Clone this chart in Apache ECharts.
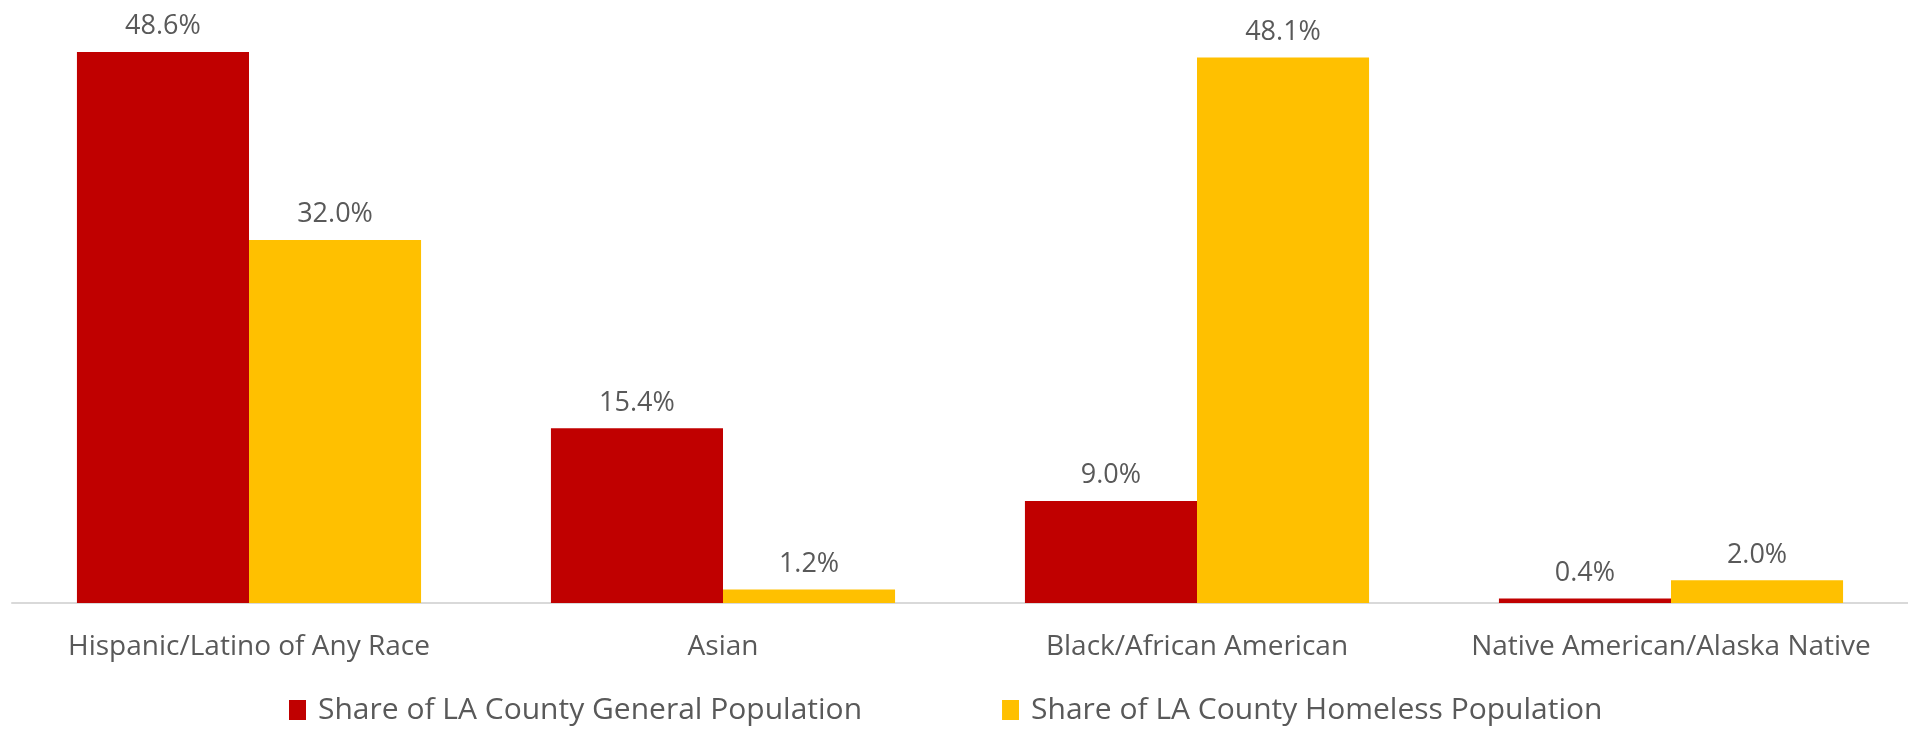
<!DOCTYPE html>
<html>
<head>
<meta charset="utf-8">
<script src="https://cdn.jsdelivr.net/npm/echarts@6/dist/echarts.min.js"></script>
<style>
html,body{margin:0;padding:0;background:#fff;}
#c{width:1908px;height:729px;}
</style>
</head>
<body>
<div id="c"></div>
<script>
const categories = ["Hispanic/Latino of Any Race", "Asian", "Black/African American", "Native American/Alaska Native"];
const seriesNames = ["Share of LA County General Population", "Share of LA County Homeless Population"];
const generalPop = [48.6, 15.4, 9.0, 0.4];
const homelessPop = [32.0, 1.2, 48.1, 2.0];

const FONT = "'Open Sans', 'Noto Sans', sans-serif";
const chart = echarts.init(document.getElementById('c'), null, {renderer: 'canvas'});
const label = {
  show: true, position: 'top', distance: 12,
  color: '#595959', fontFamily: FONT, fontSize: 27,
  formatter: p => p.value.toFixed(1) + '%'
};
chart.setOption({
  animation: false,
  backgroundColor: '#ffffff',
  grid: {left: 12, right: 0, top: 36, bottom: 126, containLabel: false},
  legend: {
    left: 284, top: 690,
    itemWidth: 17, itemHeight: 20, itemGap: 140,
    icon: 'rect',
    textStyle: {color: '#595959', fontFamily: FONT, fontSize: 30, padding: [0, 0, 0, 7]},
    data: seriesNames
  },
  xAxis: {
    type: 'category', data: categories,
    axisLine: {show: true, lineStyle: {color: '#D9D9D9', width: 2}},
    axisTick: {show: false},
    axisLabel: {color: '#595959', fontFamily: FONT, fontSize: 28, margin: 30, interval: 0}
  },
  yAxis: {
    type: 'value', min: 0, max: 50, show: false,
    splitLine: {show: false}
  },
  series: [
    {name: seriesNames[0], type: 'bar', data: generalPop, barGap: '0%', barCategoryGap: '27.4%',
     itemStyle: {color: '#C00000'}, label: label},
    {name: seriesNames[1], type: 'bar', data: homelessPop, barGap: '0%', barCategoryGap: '27.4%',
     itemStyle: {color: '#FFC000'}, label: label}
  ]
});
</script>
</body>
</html>
